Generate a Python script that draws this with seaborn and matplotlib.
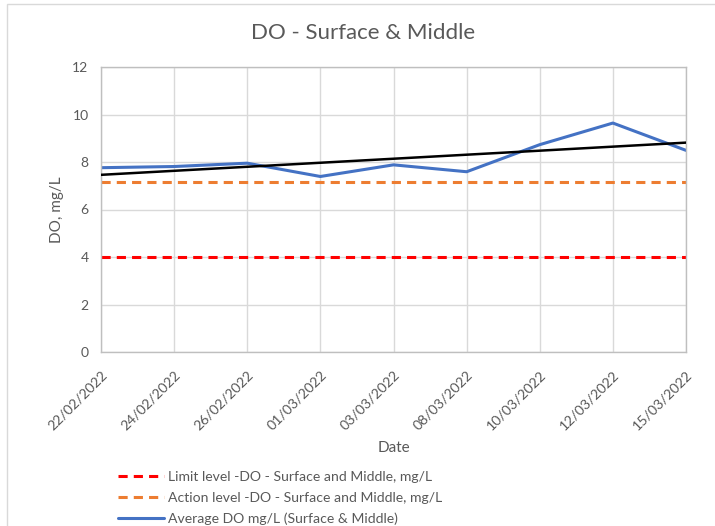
import numpy as np
import pandas as pd
import matplotlib
matplotlib.use("Agg")
import matplotlib.pyplot as plt
from matplotlib.patches import Rectangle
import seaborn as sns

# Sampling dates and average dissolved oxygen (surface & middle), mg/L
dates = ["22/02/2022", "24/02/2022", "26/02/2022", "01/03/2022", "03/03/2022",
         "08/03/2022", "10/03/2022", "12/03/2022", "15/03/2022"]
avg_do = [7.76, 7.81, 7.95, 7.39, 7.88, 7.59, 8.73, 9.64, 8.49]
limit_level = [4.0] * len(dates)
action_level = [7.15] * len(dates)
y_ticks = [0, 2, 4, 6, 8, 10, 12]

lbl_limit = "Limit level -DO - Surface and Middle, mg/L"
lbl_action = "Action level -DO - Surface and Middle, mg/L"
lbl_avg = "Average DO mg/L (Surface & Middle)"

sns.set_style("white")
plt.rcParams["font.family"] = ["Lato", "DejaVu Sans"]
TXT = "#595959"

df = pd.DataFrame({
    "pos": np.arange(len(dates)),
    "limit": limit_level,
    "action": action_level,
    "avg": avg_do,
})

fig = plt.figure(figsize=(7.15, 5.26), dpi=100)
ax = fig.add_axes([101 / 715, 1 - 352 / 526, 585 / 715, 285 / 526])

sns.lineplot(data=df, x="pos", y="limit", ax=ax, color="#FF0000", lw=2.2,
             label=lbl_limit).lines[-1].set_dashes((3, 2))
sns.lineplot(data=df, x="pos", y="action", ax=ax, color="#ED7D31", lw=2.2,
             label=lbl_action).lines[-1].set_dashes((3, 2))
sns.lineplot(data=df, x="pos", y="avg", ax=ax, color="#4472C4", lw=2.2,
             label=lbl_avg)

# Linear trendline of the average series
coef = np.polyfit(df["pos"], df["avg"], 1)
trend = np.polyval(coef, df["pos"])
ax.plot(df["pos"], trend, color="black", lw=1.8, zorder=4)

ax.set_xlim(0, len(dates) - 1)
ax.set_ylim(0, 12)
ax.set_yticks(y_ticks)
ax.set_xticks(df["pos"])
ax.set_xticklabels(dates, rotation=45, ha="right", va="top",
                   rotation_mode="anchor", color=TXT, fontsize=10.2)
ax.tick_params(axis="x", pad=12, length=0)
ax.tick_params(axis="y", pad=9, length=0, labelcolor=TXT, labelsize=10)
ax.grid(True, color="#D9D9D9", lw=1)
ax.set_axisbelow(True)
for s in ax.spines.values():
    s.set_color("#BFBFBF")
    s.set_linewidth(1)

ax.set_xlabel("Date", color=TXT, fontsize=11)
ax.xaxis.set_label_coords(0.5, -(441 - 352) / 285)
ax.set_ylabel("DO, mg/L", color=TXT, fontsize=11)
ax.yaxis.set_label_coords(-(101 - 64) / 585, 0.5)

fig.text(363 / 715, 1 - 33 / 526, "DO - Surface & Middle", ha="center",
         va="center", color=TXT, fontsize=16)

leg = ax.legend(loc="upper left", bbox_to_anchor=(118 / 715, 1 - 471 / 526),
                bbox_transform=fig.transFigure, frameon=False, fontsize=10.1,
                handlelength=3.3, handletextpad=0.25, labelspacing=0.62,
                borderpad=0, borderaxespad=0)
for t in leg.get_texts():
    t.set_color(TXT)

# Chart area border
fig.add_artist(Rectangle((7 / 715, -0.1), 1.2, 1 - 4 / 526 + 0.1,
                         transform=fig.transFigure, fill=False,
                         edgecolor="#D9D9D9", lw=1))

fig.savefig("out.png", dpi=100)
